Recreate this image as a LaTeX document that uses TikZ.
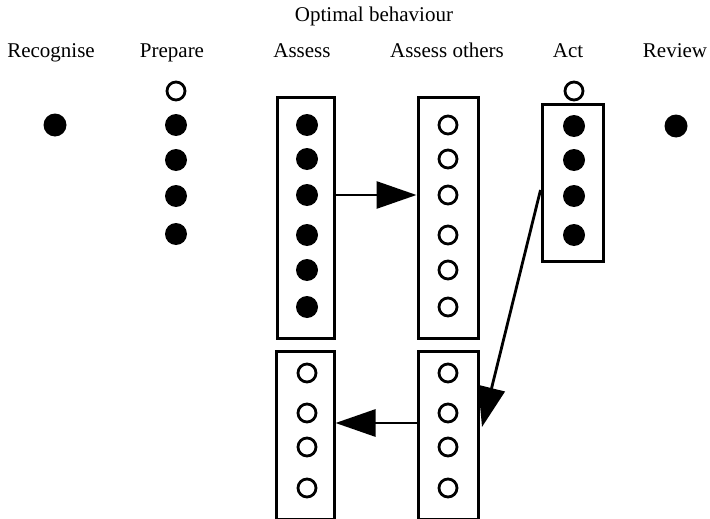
\documentclass[tikz,border=0pt]{standalone}
\usepackage{fontspec}
\setmainfont{Liberation Serif}
\usetikzlibrary{arrows.meta}
\begin{document}
\begin{tikzpicture}[x=1pt,y=-1pt,
  label/.style={font=\fontsize{21}{24}\selectfont, inner sep=0pt, anchor=base},
  full/.style={circle, fill=black, inner sep=0pt, minimum size=22pt},
  empty/.style={circle, draw=black, line width=2.8pt, inner sep=0pt, minimum size=18pt},
  group/.style={draw=black, line width=3pt, inner sep=0pt},
  arr/.style={line width=2.8pt, -{Triangle[length=40pt,width=27pt]}}]
\useasboundingbox (0,0) rectangle (710,519);

% title and column headings
\node[label] (title) at (374,22) {Optimal behaviour};
\node[label] (hrec) at (51,58) {Recognise};
\node[label] (hprep) at (172,58) {Prepare};
\node[label] (hass) at (302,58) {Assess};
\node[label] (hoth) at (447,58) {Assess others};
\node[label] (hact) at (568,58) {Act};
\node[label] (hrev) at (675,58) {Review};

% Recognise
\node[full, minimum width=20pt, minimum height=23pt] (r1) at (55,125) {};

% Prepare
\node[empty] (p0) at (176,91) {};
\foreach \y [count=\i] in {125,160,196,234}
  \node[full] (p\i) at (176,\y) {};

% Assess, upper group
\node[group, minimum width=57pt, minimum height=240pt] (abox) at (305.5,218) {};
\foreach \y [count=\i] in {125,159,195,235,270,307}
  \node[full] (a\i) at (307,\y) {};

% Assess others, upper group
\node[group, minimum width=60pt, minimum height=240pt] (obox) at (448,218) {};
\foreach \y [count=\i] in {125,159,195,235,270,307}
  \node[empty] (o\i) at (448,\y) {};

% Act
\node[empty] (c0) at (574,91) {};
\node[group, minimum width=61pt, minimum height=156pt] (cbox) at (572.5,183) {};
\foreach \y [count=\i] in {126,160,196,235}
  \node[full] (c\i) at (574,\y) {};

% Review
\node[full, minimum width=20pt, minimum height=23pt] (v1) at (676,126) {};

% Assess, lower group
\node[group, minimum width=58pt, minimum height=168pt] (abox2) at (305,435) {};
\foreach \y [count=\i] in {373,413,447,488}
  \node[empty] (b\i) at (307,\y) {};

% Assess others, lower group
\node[group, minimum width=60pt, minimum height=168pt] (obox2) at (448,435) {};
\foreach \y [count=\i] in {373,413,447,488}
  \node[empty] (q\i) at (448,\y) {};

% connectors
\coordinate (acttip) at (482,427);
\draw[arr] (abox.east |- a3) -- (obox.west |- a3);
\draw[arr] ([yshift=-7pt]cbox.west) -- (acttip);
\draw[arr] ([yshift=12pt]obox2.west) -- ([yshift=12pt]abox2.east);
\end{tikzpicture}
\end{document}
